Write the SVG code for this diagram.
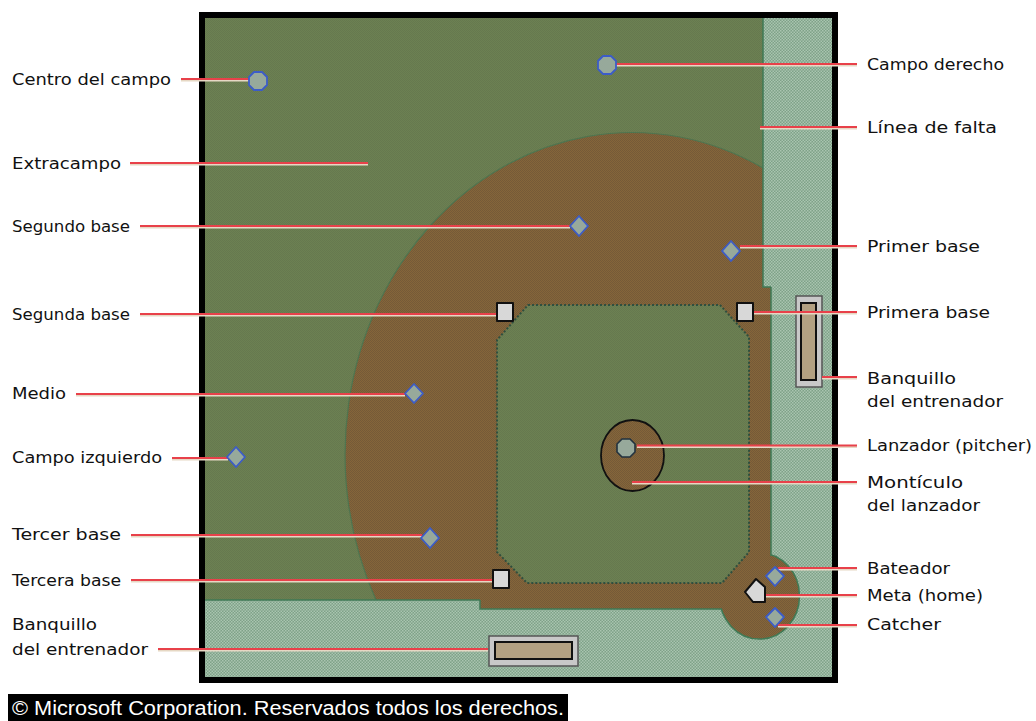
<svg xmlns="http://www.w3.org/2000/svg" width="1036" height="721" viewBox="0 0 1036 721">
<style>
text{font-family:"DejaVu Sans","Liberation Sans",sans-serif;font-size:16px;fill:#111}
.r{stroke:#e8414a;stroke-width:2;fill:none}
.p{stroke:#e6d8c4;stroke-width:2;fill:none}
.m{fill:#97a99b;stroke:#3c5cc8;stroke-width:1.800;stroke-linejoin:round}
.b{fill:#d8d8d8;stroke:#111;stroke-width:2;stroke-linejoin:round}
.bo{fill:#c8c8c8;stroke:#555;stroke-width:1.500}
.bi{fill:#b3a182;stroke:#111;stroke-width:2}
.edge{stroke:#3f7a55;stroke-width:1.500}
</style>
<defs>
<pattern id="g" width="2" height="2" patternUnits="userSpaceOnUse"><rect width="2" height="2" fill="#6c8152"/><rect width="1" height="1" fill="#66784f"/><rect x="1" y="1" width="1" height="1" fill="#66784f"/></pattern>
<pattern id="d" width="2" height="2" patternUnits="userSpaceOnUse"><rect width="2" height="2" fill="#85663a"/><rect width="1" height="1" fill="#755a38"/><rect x="1" y="1" width="1" height="1" fill="#755a38"/></pattern>
<pattern id="f" width="3" height="3" patternUnits="userSpaceOnUse"><rect width="3" height="3" fill="#7ea288"/><rect width="1.500" height="1.500" fill="#a9c4b0"/><rect x="1.500" y="1.500" width="1.500" height="1.500" fill="#a9c4b0"/></pattern>
</defs>
<g id="field">
<rect x="202" y="15" width="633" height="665" fill="url(#f)" stroke="#000" stroke-width="6"/>
<rect x="205" y="18" width="558" height="582" fill="url(#g)"/>
<ellipse cx="759.500" cy="596" rx="40" ry="43" fill="url(#d)" stroke="#3f7a55" stroke-width="1.500"/>
<path d="M763 168A287 322 0 0 0 376 600H480V609H750V560H771V287H763Z" fill="url(#d)"/>
<path d="M763 168A287 322 0 0 0 376 600" fill="none" stroke="#4f7550" stroke-width="1.200"/>
<path d="M771 287V556M763 18V287H771M480 600V609H722M205 600H480" class="edge" fill="none"/>
<path d="M528 305H720L749 337V552L722 583H527L497 552V340Z" fill="url(#g)" stroke="#2f4f3f" stroke-width="2" stroke-dasharray="2 2"/>
</g>
<g id="monticulo"><ellipse cx="632.500" cy="455.500" rx="31.500" ry="35.500" fill="url(#d)" stroke="#111" stroke-width="1.800"/></g>
<g id="banquillo-derecho"><rect class="bo" x="796" y="296" width="26" height="91"/><rect class="bi" x="801" y="303" width="15" height="77"/></g>
<g id="banquillo-abajo"><rect class="bo" x="489" y="636" width="89" height="30"/><rect class="bi" x="495" y="642" width="77" height="17"/></g>
<g id="connectors">
<path class="p" d="M181 80.500H250M130 164.500H368M140 227.500H570M140 315.500H497M76 395.500H405M172 459.500H228M131 536.500H422M131 581.500H492M158 650.500H488M615 65.500H857M760 128.500H857M740 247.500H857M754 313.500H857M822 378.500H857M637 447H857M632 483.500H857M778 569.500H857M766 596.500H857M778 626.500H857"/>
<path class="r" d="M181 79H250M130 163H368M140 226H570M140 314H497M76 394H405M172 458H228M131 535H422M131 580H492M158 649H488M615 64H857M760 127H857M740 246H857M754 312H857M822 377H857M637 445.500H857M632 482H857M778 568H857M766 595H857M778 625H857"/>
</g>
<g id="bases">
<rect class="b" x="497" y="303" width="16" height="18"/>
<rect class="b" x="737" y="303" width="16" height="18"/>
<rect class="b" x="493" y="570" width="16" height="18"/>
<polygon class="b" points="756,579 765,587 765,602 753,602 745,592"/>
</g>
<g id="jugadores">
<polygon class="m" points="254,72 262,72 267,77 267,85 262,90 254,90 249,85 249,77"/>
<polygon class="m" points="603,56 611,56 616,61 616,69 611,74 603,74 598,69 598,61"/>
<polygon class="m" points="579,216 588,226 579,236 570,226"/>
<polygon class="m" points="731,241 740,251 731,261 722,251"/>
<polygon class="m" points="414,384 423,393.500 414,403 405,393.500"/>
<polygon class="m" points="236,447 245,457 236,467 227,457"/>
<polygon class="m" points="430,528 439,538 430,548 421,538"/>
<polygon class="m" points="775,567 784,576 775,586 766,576"/>
<polygon class="m" points="775,608 784,617 775,627 766,617"/>
<polygon points="622,439 630,439 635,444 635,452 630,457 622,457 617,452 617,444" fill="#97a99b" stroke="#22323f" stroke-width="1.600"/>
</g>
<g id="labels">
<text x="12" y="85" textLength="159" lengthAdjust="spacingAndGlyphs">Centro del campo</text>
<text x="12" y="169" textLength="109" lengthAdjust="spacingAndGlyphs">Extracampo</text>
<text x="12" y="232" textLength="118" lengthAdjust="spacingAndGlyphs">Segundo base</text>
<text x="12" y="320" textLength="118" lengthAdjust="spacingAndGlyphs">Segunda base</text>
<text x="12" y="399" textLength="54" lengthAdjust="spacingAndGlyphs">Medio</text>
<text x="12" y="463" textLength="150" lengthAdjust="spacingAndGlyphs">Campo izquierdo</text>
<text x="12" y="540" textLength="109" lengthAdjust="spacingAndGlyphs">Tercer base</text>
<text x="12" y="586" textLength="109" lengthAdjust="spacingAndGlyphs">Tercera base</text>
<text x="12" y="630" textLength="85" lengthAdjust="spacingAndGlyphs">Banquillo</text>
<text x="12" y="655" textLength="136" lengthAdjust="spacingAndGlyphs">del entrenador</text>
<text x="867" y="70" textLength="137" lengthAdjust="spacingAndGlyphs">Campo derecho</text>
<text x="867" y="133" textLength="130" lengthAdjust="spacingAndGlyphs">Línea de falta</text>
<text x="867" y="252" textLength="113" lengthAdjust="spacingAndGlyphs">Primer base</text>
<text x="867" y="318" textLength="123" lengthAdjust="spacingAndGlyphs">Primera base</text>
<text x="867" y="384" textLength="89" lengthAdjust="spacingAndGlyphs">Banquillo</text>
<text x="867" y="407" textLength="136" lengthAdjust="spacingAndGlyphs">del entrenador</text>
<text x="867" y="451" textLength="165" lengthAdjust="spacingAndGlyphs">Lanzador (pitcher)</text>
<text x="867" y="488" textLength="96" lengthAdjust="spacingAndGlyphs">Montículo</text>
<text x="867" y="511" textLength="113" lengthAdjust="spacingAndGlyphs">del lanzador</text>
<text x="867" y="574" textLength="83" lengthAdjust="spacingAndGlyphs">Bateador</text>
<text x="867" y="601" textLength="116" lengthAdjust="spacingAndGlyphs">Meta (home)</text>
<text x="867" y="630" textLength="74" lengthAdjust="spacingAndGlyphs">Catcher</text>
</g>
<g id="copyright">
<rect x="8" y="694" width="560" height="27" fill="#000"/>
<text x="12" y="715" textLength="552" lengthAdjust="spacingAndGlyphs" style="font-family:'Liberation Sans',sans-serif;font-size:20px;fill:#fff">© Microsoft Corporation. Reservados todos los derechos.</text>
</g>
</svg>
